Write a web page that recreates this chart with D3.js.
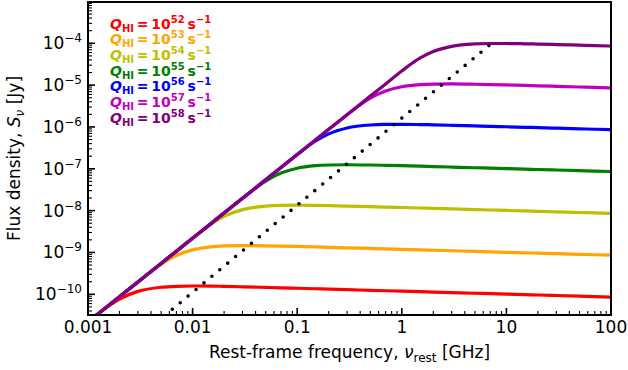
<!DOCTYPE html>
<html><head><meta charset="utf-8">
<script src="https://cdn.jsdelivr.net/npm/d3@7"></script>
<style>body{margin:0;background:#fff}svg{display:block}text{font-family:"DejaVu Sans",sans-serif}</style>
</head><body><svg id="c" width="628" height="370"></svg>
<script>
const freqGHz = [0.001, 0.0015, 0.002, 0.003, 0.005, 0.007, 0.01, 0.015, 0.02, 0.03, 0.05, 0.07, 0.1, 0.15, 0.2, 0.3, 0.5, 0.7, 1, 1.5, 2, 3, 5, 7, 10, 15, 20, 30, 50, 70, 100];
const fluxQ52 = [2.19e-11, 4.82e-11, 7.68e-11, 1.173e-10, 1.476e-10, 1.555e-10, 1.579e-10, 1.567e-10, 1.547e-10, 1.511e-10, 1.462e-10, 1.430e-10, 1.395e-10, 1.356e-10, 1.328e-10, 1.291e-10, 1.246e-10, 1.217e-10, 1.187e-10, 1.154e-10, 1.131e-10, 1.099e-10, 1.060e-10, 1.036e-10, 1.010e-10, 9.82e-11, 9.63e-11, 9.35e-11, 9.02e-11, 8.82e-11, 8.59e-11];
const fluxQ53 = [2.19e-11, 4.93e-11, 8.76e-11, 1.97e-10, 5.24e-10, 8.47e-10, 1.153e-9, 1.361e-9, 1.430e-9, 1.460e-9, 1.444e-9, 1.420e-9, 1.391e-9, 1.355e-9, 1.327e-9, 1.291e-9, 1.246e-9, 1.217e-9, 1.187e-9, 1.154e-9, 1.131e-9, 1.099e-9, 1.060e-9, 1.036e-9, 1.010e-9, 9.82e-10, 9.63e-10, 9.35e-10, 9.02e-10, 8.82e-10, 8.59e-10];
const fluxQ54 = [2.19e-11, 4.93e-11, 8.76e-11, 1.97e-10, 5.48e-10, 1.07e-9, 2.189e-9, 4.735e-9, 7.286e-9, 1.058e-8, 1.285e-8, 1.339e-8, 1.351e-8, 1.337e-8, 1.318e-8, 1.287e-8, 1.245e-8, 1.217e-8, 1.187e-8, 1.154e-8, 1.131e-8, 1.099e-8, 1.060e-8, 1.036e-8, 1.010e-8, 9.82e-9, 9.63e-9, 9.35e-9, 9.02e-9, 8.82e-9, 8.59e-9];
const fluxQ55 = [2.19e-11, 4.93e-11, 8.76e-11, 1.97e-10, 5.48e-10, 1.07e-9, 2.19e-9, 4.93e-9, 8.76e-9, 1.969e-8, 5.101e-8, 7.887e-8, 1.032e-7, 1.186e-7, 1.233e-7, 1.249e-7, 1.232e-7, 1.210e-7, 1.184e-7, 1.153e-7, 1.131e-7, 1.099e-7, 1.060e-7, 1.036e-7, 1.010e-7, 9.82e-8, 9.63e-8, 9.35e-8, 9.02e-8, 8.82e-8, 8.59e-8];
const fluxQ56 = [2.19e-11, 4.93e-11, 8.76e-11, 1.97e-10, 5.48e-10, 1.07e-9, 2.19e-9, 4.93e-9, 8.76e-9, 1.97e-8, 5.48e-8, 1.07e-7, 2.186e-7, 4.615e-7, 6.836e-7, 9.47e-7, 1.115e-6, 1.150e-6, 1.155e-6, 1.140e-6, 1.124e-6, 1.096e-6, 1.059e-6, 1.036e-6, 1.010e-6, 9.82e-7, 9.63e-7, 9.35e-7, 9.02e-7, 8.82e-7, 8.59e-7];
const fluxQ57 = [2.19e-11, 4.93e-11, 8.76e-11, 1.97e-10, 5.48e-10, 1.07e-9, 2.19e-9, 4.93e-9, 8.76e-9, 1.97e-8, 5.48e-8, 1.07e-7, 2.19e-7, 4.93e-7, 8.76e-7, 1.967e-6, 4.916e-6, 7.267e-6, 9.163e-6, 1.029e-5, 1.061e-5, 1.069e-5, 1.050e-5, 1.031e-5, 1.008e-5, 9.81e-6, 9.63e-6, 9.35e-6, 9.02e-6, 8.82e-6, 8.59e-6];
const fluxQ58 = [2.19e-11, 4.93e-11, 8.76e-11, 1.97e-10, 5.48e-10, 1.07e-9, 2.19e-9, 4.93e-9, 8.76e-9, 1.97e-8, 5.48e-8, 1.07e-7, 2.19e-7, 4.93e-7, 8.76e-7, 1.97e-6, 5.48e-6, 1.07e-5, 2.180e-5, 4.456e-5, 6.351e-5, 8.424e-5, 9.64e-5, 9.876e-5, 9.870e-5, 9.722e-5, 9.577e-5, 9.328e-5, 9.013e-5, 8.816e-5, 8.59e-5];
const seriesExponents = ["52", "53", "54", "55", "56", "57", "58"];
const seriesColors = ["#ff0000", "#ffa500", "#bfbf00", "#008000", "#0000ff", "#bf00bf", "#800080"];
const peakLineFreq = [6.8, 0.0055];
const peakLineFlux = [8.8e-5, 3.2e-11];
const xTickValues = [0.001, 0.01, 0.1, 1, 10, 100];
const xTickLabels = ["0.001", "0.01", "0.1", "1", "10", "100"];
const yTickExponents = [-10, -9, -8, -7, -6, -5, -4];

const series = [fluxQ52, fluxQ53, fluxQ54, fluxQ55, fluxQ56, fluxQ57, fluxQ58];
const L = 88, R = 611, T = 2, B = 315;
const svg = d3.select("#c");
const x = d3.scaleLog().domain([0.001, 100]).range([L, R]);
const y = d3.scaleLog().domain([3.2e-11, 9.7e-4]).range([B, T]);

svg.append("defs").append("clipPath").attr("id", "clip")
  .append("rect").attr("x", L).attr("y", T).attr("width", R - L).attr("height", B - T);

const plot = svg.append("g").attr("clip-path", "url(#clip)");
const line = d3.line().x(d => x(d[0])).y(d => y(d[1])).curve(d3.curveMonotoneX);
series.forEach((vals, i) => {
  plot.append("path")
    .datum(freqGHz.map((f, j) => [f, vals[j]]))
    .attr("d", line)
    .attr("fill", "none")
    .attr("stroke", seriesColors[i])
    .attr("stroke-width", 3.2)
    .attr("stroke-linejoin", "round");
});
plot.append("path")
  .datum(peakLineFreq.map((f, j) => [f, peakLineFlux[j]]))
  .attr("d", d3.line().x(d => x(d[0])).y(d => y(d[1])))
  .attr("fill", "none").attr("stroke", "#000").attr("stroke-width", 3.6)
  .attr("stroke-linecap", "round").attr("stroke-dasharray", "0 10.3");

// ticks
const tg = svg.append("g").attr("stroke", "#000");
for (let k = -3; k <= 2; k++) {
  const v = Math.pow(10, k);
  tg.append("line").attr("x1", x(v)).attr("x2", x(v)).attr("y1", B).attr("y2", B - 7).attr("stroke-width", 1.6);
  if (k < 2) for (let m = 2; m <= 9; m++) {
    const xv = x(m * v);
    tg.append("line").attr("x1", xv).attr("x2", xv).attr("y1", B).attr("y2", B - 4).attr("stroke-width", 1.1);
  }
}
for (let k = -11; k <= -4; k++) {
  const v = Math.pow(10, k);
  if (v >= 3.2e-11) tg.append("line").attr("x1", L).attr("x2", L + 7).attr("y1", y(v)).attr("y2", y(v)).attr("stroke-width", 1.6);
  for (let m = 2; m <= 9; m++) {
    const val = m * v;
    if (val < 3.2e-11 || val > 9.7e-4) continue;
    tg.append("line").attr("x1", L).attr("x2", L + 4).attr("y1", y(val)).attr("y2", y(val)).attr("stroke-width", 1.1);
  }
}
svg.append("rect").attr("x", L).attr("y", T).attr("width", R - L).attr("height", B - T)
  .attr("fill", "none").attr("stroke", "#000").attr("stroke-width", 2);

// tick labels
xTickValues.forEach((v, i) => {
  svg.append("text").attr("x", x(v)).attr("y", B + 18).attr("text-anchor", "middle")
    .attr("font-size", 17).attr("fill", "#000").text(xTickLabels[i]);
});
yTickExponents.forEach(e => {
  const t = svg.append("text").attr("x", L - 6).attr("y", y(Math.pow(10, e)) + 6)
    .attr("text-anchor", "end").attr("font-size", 17).attr("fill", "#000");
  t.append("tspan").text("10");
  t.append("tspan").attr("font-size", 12).attr("dy", -7).text("\u2212" + Math.abs(e));
});

// axis labels
const xl = svg.append("text").attr("x", (L + R) / 2).attr("y", 358).attr("text-anchor", "middle")
  .attr("font-size", 17).attr("fill", "#000");
xl.append("tspan").text("Rest-frame frequency, ");
xl.append("tspan").attr("font-style", "italic").text("\u03bd");
xl.append("tspan").attr("font-size", 12).attr("dy", 4).text("rest");
xl.append("tspan").attr("dy", -4).text(" [GHz]");

const yl = svg.append("text").attr("transform", `translate(20,${(T + B) / 2}) rotate(-90)`)
  .attr("text-anchor", "middle").attr("font-size", 17).attr("fill", "#000");
yl.append("tspan").text("Flux density, ");
yl.append("tspan").attr("font-style", "italic").text("S");
yl.append("tspan").attr("font-style", "italic").attr("font-size", 12).attr("dy", 4).text("\u03bd");
yl.append("tspan").attr("dy", -4).text(" [Jy]");

// legend
seriesExponents.forEach((e, i) => {
  const t = svg.append("text").attr("x", 110).attr("y", 28.5 + i * 15.7)
    .attr("font-size", 14).attr("font-weight", "bold").attr("fill", seriesColors[i]);
  t.append("tspan").attr("font-style", "italic").text("Q");
  t.append("tspan").attr("font-size", 10).attr("dy", 3).text("HI");
  t.append("tspan").attr("dy", -3).text("\u2009=\u200910");
  t.append("tspan").attr("font-size", 10).attr("dy", -6).text(e);
  t.append("tspan").attr("dy", 6).text("\u2009s");
  t.append("tspan").attr("font-size", 10).attr("dy", -6).text("\u22121");
});
</script></body></html>
